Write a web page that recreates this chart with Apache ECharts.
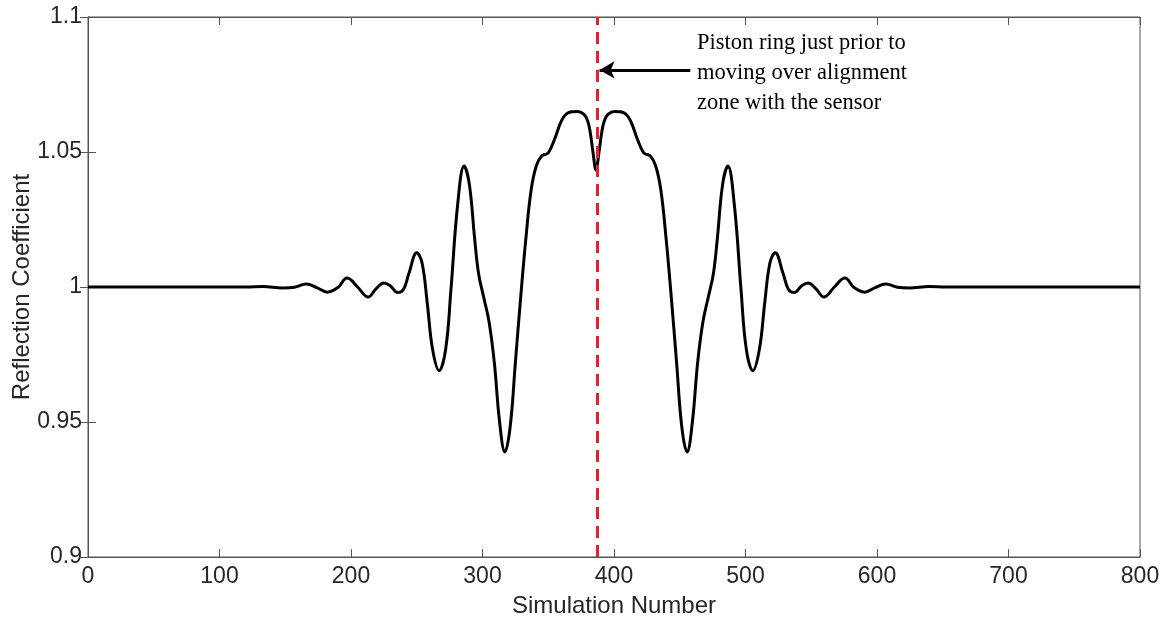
<!DOCTYPE html>
<html>
<head>
<meta charset="utf-8">
<script src="https://cdn.jsdelivr.net/npm/echarts@6/dist/echarts.min.js"></script>
<style>
html,body{margin:0;padding:0;background:#fff;}
#chart{width:1170px;height:623px;}
</style>
</head>
<body>
<div id="chart"></div>
<script>
// Simulation number (x) and reflection coefficient (y)
var simNumber = [
  0, 120, 133, 148, 157, 166, 174, 182, 190, 197, 205, 213, 219, 225, 230, 235.5, 240, 244, 250, 254,
  258, 262, 267, 272, 276, 281, 286, 290, 294, 297, 301, 305, 309, 313, 317, 321, 325, 329, 333, 337,
  341, 345, 350, 355, 360, 365, 372, 377, 380, 382, 384, 386.3,
  388.6, 390.6, 392.6, 395.6, 400.6, 407.6, 412.6, 417.6, 422.6, 427.6, 431.6, 435.6, 439.6, 443.6,
  447.6, 451.6, 455.6, 459.6, 463.6, 467.6, 471.6, 475.6, 478.6, 482.6, 486.6, 491.6, 496.6, 500.6,
  505.6, 510.6, 514.6, 518.6, 522.6, 528.6, 532.6, 537.1, 542.6, 547.6, 553.6, 559.6, 567.6, 575.6,
  582.6, 590.6, 598.6, 606.6, 615.6, 624.6, 639.6, 652.6, 800
];
var reflection = [
  1.0, 1.0, 1.0002, 0.9996, 0.9999, 1.0011, 0.9998, 0.9981, 0.9998, 1.0033, 1.0, 0.9963, 0.9993, 1.0015, 1.0004, 0.998, 0.9992, 1.005, 1.0127, 1.009,
  0.994, 0.977, 0.969, 0.977, 0.999, 1.03, 1.0448, 1.038, 1.018, 1.005, 0.996, 0.987, 0.972, 0.950, 0.9389, 0.948, 0.972, 0.996, 1.018, 1.036,
  1.045, 1.0485, 1.0497, 1.055, 1.0615, 1.0645, 1.065, 1.064, 1.0615, 1.057, 1.05, 1.0433,
  1.05, 1.057, 1.0615, 1.064, 1.065, 1.0645, 1.0615, 1.055, 1.0497, 1.0485, 1.045, 1.036, 1.018, 0.996,
  0.972, 0.948, 0.9389, 0.950, 0.972, 0.987, 0.996, 1.005, 1.018, 1.038, 1.0448, 1.03, 0.999, 0.977,
  0.969, 0.977, 0.994, 1.009, 1.0127, 1.005, 0.9992, 0.998, 1.0004, 1.0015, 0.9993, 0.9963, 1.0, 1.0033,
  0.9998, 0.9981, 0.9998, 1.0011, 0.9999, 0.9996, 1.0002, 1.0, 1.0
];
var xTicks = [0, 100, 200, 300, 400, 500, 600, 700, 800];
var yTickLabels = ['0.9', '0.95', '1', '1.05', '1.1'];
var markerX = 387;
var arrowFrom = [458, 1.0804];
var arrowTo = [389, 1.0804];
var noteLines = ['Piston ring just prior to', 'moving over alignment', 'zone with the sensor'];
var xTitle = 'Simulation Number';
var yTitle = 'Reflection Coefficient';

var seriesData = simNumber.map(function (x, i) { return [x, reflection[i]]; });

var axisCol = '#555555';
var txtCol = '#262626';
var chart = echarts.init(document.getElementById('chart'), null, {renderer: 'canvas'});
chart.setOption({
  animation: false,
  backgroundColor: '#ffffff',
  grid: {left: 88, right: 30, top: 17, bottom: 66, show: true, borderColor: axisCol, borderWidth: 1,
         containLabel: false, outerBoundsMode: 'none'},
  xAxis: [{
    type: 'value', min: xTicks[0], max: xTicks[xTicks.length - 1], interval: 100,
    name: xTitle, nameLocation: 'middle', nameGap: 37, nameMoveOverlap: false,
    nameTextStyle: {fontFamily: 'Liberation Sans', fontSize: 24, color: txtCol},
    axisLine: {show: true, lineStyle: {color: axisCol, width: 1}},
    axisTick: {show: true, inside: true, length: 8, lineStyle: {color: axisCol}},
    axisLabel: {fontFamily: 'Liberation Sans', fontSize: 23, color: txtCol, margin: 8},
    splitLine: {show: false}
  }, {
    type: 'value', position: 'top', min: xTicks[0], max: xTicks[xTicks.length - 1], interval: 100,
    axisLine: {show: true, lineStyle: {color: axisCol, width: 1}},
    axisTick: {show: true, inside: true, length: 8, lineStyle: {color: axisCol}},
    axisLabel: {show: false}, splitLine: {show: false}
  }],
  yAxis: [{
    type: 'value', min: 0.9, max: 1.1, interval: 0.05,
    name: yTitle, nameLocation: 'middle', nameGap: 54, nameRotate: 90, nameMoveOverlap: false,
    nameTextStyle: {fontFamily: 'Liberation Sans', fontSize: 24, color: txtCol},
    axisLine: {show: true, lineStyle: {color: axisCol, width: 1}},
    axisTick: {show: true, inside: true, length: 8, lineStyle: {color: axisCol}},
    axisLabel: {fontFamily: 'Liberation Sans', fontSize: 23, color: txtCol, margin: 6,
      formatter: function (v) {
        var idx = Math.round((v - 0.9) / 0.05);
        return yTickLabels[idx];
      }},
    splitLine: {show: false}
  }, {
    type: 'value', position: 'right', min: 0.9, max: 1.1, interval: 0.05,
    axisLine: {show: true, lineStyle: {color: axisCol, width: 1}},
    axisTick: {show: true, inside: true, length: 8, lineStyle: {color: axisCol}},
    axisLabel: {show: false}, splitLine: {show: false}
  }],
  series: [{
    type: 'line',
    data: seriesData,
    showSymbol: false,
    smooth: 0.4,
    lineStyle: {color: '#000000', width: 3},
    z: 3,
    markLine: {
      silent: true, symbol: ['none', 'none'], label: {show: false},
      lineStyle: {color: '#e8202a', width: 3, type: [12, 7]},
      data: [{xAxis: markerX}],
      z: 4
    }
  }, {
    type: 'line',
    data: [],
    markLine: {
      silent: true,
      symbol: ['none', 'arrow'], symbolSize: [13, 15],
      label: {show: false},
      lineStyle: {color: '#000000', width: 3, type: 'solid'},
      data: [[{coord: arrowFrom}, {coord: arrowTo}]],
      z: 5
    }
  }],
  graphic: [{
    type: 'text', left: 697, top: 28,
    style: {
      text: noteLines.join('\n'),
      fontFamily: 'Liberation Serif', fontSize: 22.5, lineHeight: 30,
      fill: '#000000'
    }
  }]
});
</script>
</body>
</html>
